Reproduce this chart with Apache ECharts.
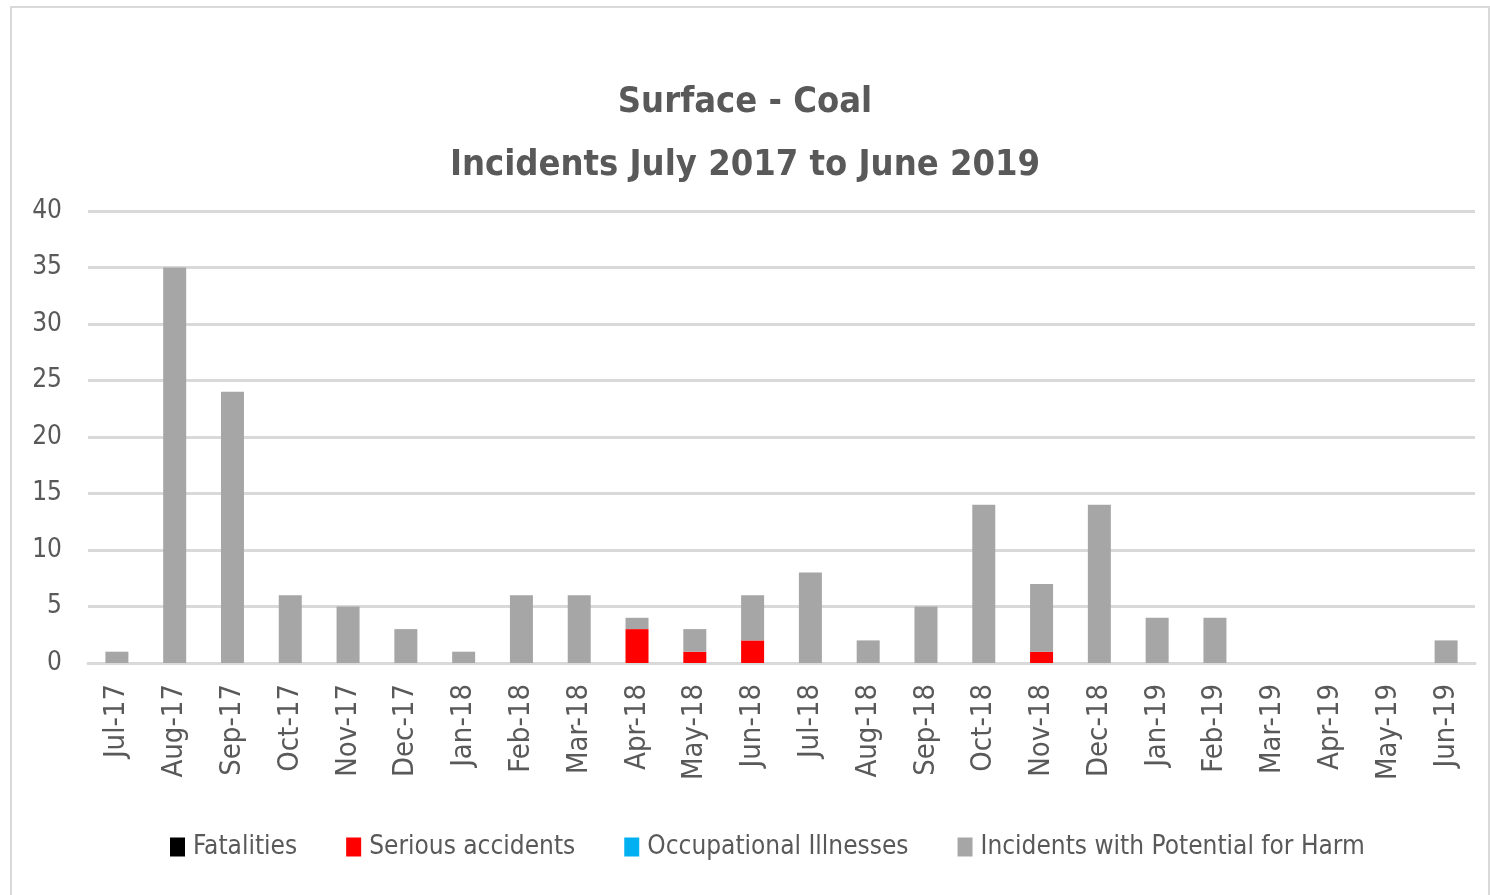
<!DOCTYPE html>
<html>
<head>
<meta charset="utf-8">
<script src="https://cdn.jsdelivr.net/npm/echarts@6/dist/echarts.min.js"></script>
<style>
  html, body { margin: 0; padding: 0; background: #fff; }
  #frame { position: absolute; left: 10px; top: 6px; width: 1476px; height: 890px; border: 2px solid #d9d9d9; border-bottom: none; }
  #chart { position: absolute; left: 0; top: 0; width: 1490px; height: 895px; }
</style>
</head>
<body>
<div id="frame"></div>
<div id="chart"></div>
<script>
var months = ['Jul-17', 'Aug-17', 'Sep-17', 'Oct-17', 'Nov-17', 'Dec-17', 'Jan-18', 'Feb-18',
    'Mar-18', 'Apr-18', 'May-18', 'Jun-18', 'Jul-18', 'Aug-18', 'Sep-18', 'Oct-18', 'Nov-18',
    'Dec-18', 'Jan-19', 'Feb-19', 'Mar-19', 'Apr-19', 'May-19', 'Jun-19'];
var fatalities = [0, 0, 0, 0, 0, 0, 0, 0, 0, 0, 0, 0, 0, 0, 0, 0, 0, 0, 0, 0, 0, 0, 0, 0];
var serious = [0, 0, 0, 0, 0, 0, 0, 0, 0, 3, 1, 2, 0, 0, 0, 0, 1, 0, 0, 0, 0, 0, 0, 0];
var illnesses = [0, 0, 0, 0, 0, 0, 0, 0, 0, 0, 0, 0, 0, 0, 0, 0, 0, 0, 0, 0, 0, 0, 0, 0];
var potentialHarm = [1, 35, 24, 6, 5, 3, 1, 6, 6, 1, 2, 4, 8, 2, 5, 14, 6, 14, 4, 4, 0, 0, 0, 2];

var textColor = '#595959';
var narrow = "'DejaVu Sans Condensed', 'Liberation Sans', sans-serif";

function barSeries(name, data, color) {
    return {
        name: name,
        type: 'bar',
        stack: 'total',
        barWidth: 23,
        itemStyle: { color: color },
        data: data
    };
}

var chart = echarts.init(document.getElementById('chart'));
chart.setOption({
    animation: false,
    title: {
        text: 'Surface - Coal\nIncidents July 2017 to June 2019',
        left: 'center',
        top: 66,
        textStyle: {
            fontFamily: narrow,
            fontSize: 36,
            fontWeight: 'bold',
            color: textColor,
            lineHeight: 63
        }
    },
    legend: {
        bottom: 30,
        left: 165,
        itemWidth: 15,
        itemHeight: 19,
        itemGap: 49,
        icon: 'rect',
        textStyle: {
            fontFamily: narrow,
            fontSize: 26,
            color: textColor,
            padding: [0, 0, 0, 3]
        },
        data: ['Fatalities', 'Serious accidents', 'Occupational Illnesses', 'Incidents with Potential for Harm']
    },
    grid: { left: 88, right: 15, top: 211, bottom: 232 },
    xAxis: {
        type: 'category',
        data: months,
        axisLine: { lineStyle: { color: '#d9d9d9', width: 3 } },
        axisTick: { show: false },
        axisLabel: {
            rotate: 90,
            margin: 21,
            fontFamily: narrow,
            fontSize: 29,
            color: textColor
        }
    },
    yAxis: {
        type: 'value',
        min: 0,
        max: 40,
        interval: 5,
        axisLine: { show: false },
        axisTick: { show: false },
        splitLine: { lineStyle: { color: '#d9d9d9', width: 3 } },
        axisLabel: {
            margin: 26,
            fontFamily: narrow,
            fontSize: 26,
            color: textColor
        }
    },
    series: [
        barSeries('Fatalities', fatalities, '#000000'),
        barSeries('Serious accidents', serious, '#ff0000'),
        barSeries('Occupational Illnesses', illnesses, '#00b0f0'),
        barSeries('Incidents with Potential for Harm', potentialHarm, '#a6a6a6')
    ]
});
</script>
</body>
</html>
